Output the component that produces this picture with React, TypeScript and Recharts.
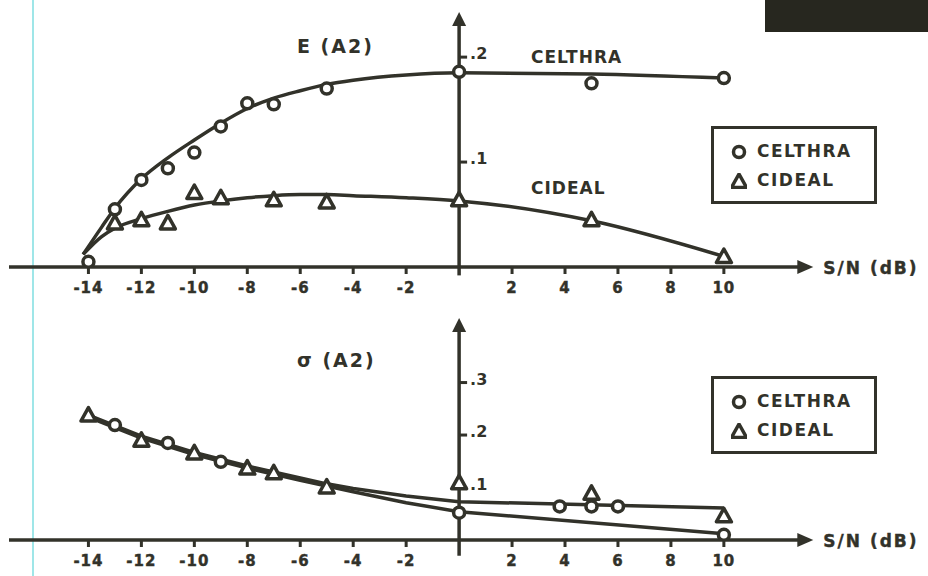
import React from 'react'
import {
  ComposedChart,
  Line,
  Scatter,
  XAxis,
  YAxis,
  ReferenceLine,
  ReferenceDot,
  Legend,
} from 'recharts'

// values, S/N in dB
const xTicks = [-14, -12, -10, -8, -6, -4, -2, 2, 4, 6, 8, 10]
const eTicks = [0.1, 0.2]
const sigmaTicks = [0.1, 0.2, 0.3]

// E (A2) - measured points
const eCelthraPts = [
  { x: -14, y: 0.005 }, { x: -13, y: 0.055 }, { x: -12, y: 0.083 }, { x: -11, y: 0.094 },
  { x: -10, y: 0.109 }, { x: -9, y: 0.134 }, { x: -8, y: 0.156 }, { x: -7, y: 0.155 },
  { x: -5, y: 0.17 }, { x: 0, y: 0.186 }, { x: 5, y: 0.175 }, { x: 10, y: 0.18 },
]
const eCidealPts = [
  { x: -13, y: 0.042 }, { x: -12, y: 0.045 }, { x: -11, y: 0.042 }, { x: -10, y: 0.071 },
  { x: -9, y: 0.066 }, { x: -7, y: 0.064 }, { x: -5, y: 0.062 }, { x: 0, y: 0.064 },
  { x: 5, y: 0.045 }, { x: 10, y: 0.01 },
]
// E (A2) - fitted curves
const eCelthraFit = [
  { x: -14.2, y: 0.012 }, { x: -13.5, y: 0.038 }, { x: -13, y: 0.056 }, { x: -12, y: 0.084 },
  { x: -11, y: 0.104 }, { x: -10, y: 0.121 }, { x: -9, y: 0.137 }, { x: -8, y: 0.151 },
  { x: -7, y: 0.161 }, { x: -6, y: 0.168 }, { x: -5, y: 0.174 }, { x: -4, y: 0.178 },
  { x: -2, y: 0.183 }, { x: 0, y: 0.185 }, { x: 5, y: 0.184 }, { x: 10, y: 0.18 },
]
const eCidealFit = [
  { x: -14.2, y: 0.012 }, { x: -13.5, y: 0.029 }, { x: -13, y: 0.037 }, { x: -12, y: 0.046 },
  { x: -11, y: 0.053 }, { x: -10, y: 0.059 }, { x: -9, y: 0.063 }, { x: -8, y: 0.066 },
  { x: -7, y: 0.068 }, { x: -6, y: 0.069 }, { x: -5, y: 0.069 }, { x: -4, y: 0.068 },
  { x: -2, y: 0.066 }, { x: 0, y: 0.063 }, { x: 5, y: 0.044 }, { x: 10, y: 0.01 },
]

// sigma (A2) - measured points
const sCelthraPts = [
  { x: -13, y: 0.219 }, { x: -11, y: 0.185 }, { x: -9, y: 0.149 }, { x: 0, y: 0.052 },
  { x: 3.8, y: 0.064 }, { x: 5, y: 0.064 }, { x: 6, y: 0.064 }, { x: 10, y: 0.01 },
]
const sCidealPts = [
  { x: -14, y: 0.238 }, { x: -12, y: 0.19 }, { x: -10, y: 0.166 }, { x: -8, y: 0.137 },
  { x: -7, y: 0.128 }, { x: -5, y: 0.101 }, { x: 0, y: 0.109 }, { x: 5, y: 0.089 },
  { x: 10, y: 0.046 },
]
// sigma (A2) - fitted lines
const sUpperFit = [
  { x: -14, y: 0.238 }, { x: -12, y: 0.198 }, { x: -10, y: 0.167 }, { x: -8, y: 0.141 },
  { x: -6, y: 0.118 }, { x: -5, y: 0.107 }, { x: -4, y: 0.098 }, { x: -2, y: 0.084 },
  { x: 0, y: 0.073 }, { x: 10, y: 0.061 },
]
const sLowerFit = [
  { x: -14, y: 0.234 }, { x: -12, y: 0.194 }, { x: -10, y: 0.163 }, { x: -8, y: 0.137 },
  { x: -6, y: 0.114 }, { x: -5, y: 0.103 }, { x: -4, y: 0.092 }, { x: -2, y: 0.071 },
  { x: 0, y: 0.054 }, { x: 10, y: 0.012 },
]

const INK = '#32322a'
const FONT = '"DejaVu Sans", sans-serif'
const X_DOMAIN = [-17, 13]

const Ring = (p: any) => (
  <circle cx={p.cx} cy={p.cy} r={5.5} fill="#fff" stroke={INK} strokeWidth={3.5} />
)

const Tri = (p: any) => {
  const s = 7.5
  return (
    <path
      d={`M${p.cx},${p.cy - s} L${p.cx + s},${p.cy + s * 0.8} L${p.cx - s},${p.cy + s * 0.8} Z`}
      fill="#fff"
      stroke={INK}
      strokeWidth={3.5}
      strokeLinejoin="round"
    />
  )
}

const XTick = (p: any) => (
  <g>
    <line x1={p.x} x2={p.x} y1={p.y} y2={p.y + 7} stroke={INK} strokeWidth={3} />
    <text
      x={p.x}
      y={p.y + 26}
      textAnchor="middle"
      fontFamily={FONT}
      fontWeight="bold"
      fontSize={15}
      letterSpacing={1}
      fill={INK}
      stroke={INK}
      strokeWidth={0.4}
    >
      {p.payload.value}
    </text>
  </g>
)

const yTickShape = (label: string) => (p: any) => (
  <g>
    <line x1={p.cx} x2={p.cx + 8} y1={p.cy} y2={p.cy} stroke={INK} strokeWidth={3} />
    <text
      x={p.cx + 11}
      y={p.cy + 2}
      fontFamily={FONT}
      fontWeight="bold"
      fontSize={16}
      fill={INK}
    >
      {label}
    </text>
  </g>
)

const ArrowUp = (p: any) => (
  <path d={`M${p.cx},${p.cy} L${p.cx + 7},${p.cy + 14} L${p.cx - 7},${p.cy + 14} Z`} fill={INK} />
)

const ArrowRight = (p: any) => (
  <g>
    <path d={`M${p.cx + 10},${p.cy} L${p.cx - 6},${p.cy - 7} L${p.cx - 6},${p.cy + 7} Z`} fill={INK} />
    <text
      x={p.cx + 20}
      y={p.cy + 7}
      fontFamily={FONT}
      fontWeight="bold"
      fontSize={17}
      letterSpacing={2}
      fill={INK}
      stroke={INK}
      strokeWidth={0.4}
    >
      S/N (dB)
    </text>
  </g>
)

const LegendBox = () => (
  <div
    style={{
      boxSizing: 'border-box',
      width: 166,
      height: 78,
      border: `3px solid ${INK}`,
      padding: '8px 0 0 17px',
      fontFamily: FONT,
      fontWeight: 'bold',
      fontSize: 17,
      letterSpacing: 1.5,
      color: INK,
      lineHeight: '29px',
    }}
  >
    <div style={{ display: 'flex', alignItems: 'center', height: 29 }}>
      <svg width={16} height={16} style={{ marginRight: 10 }}>
        <Ring cx={8} cy={8} />
      </svg>
      CELTHRA
    </div>
    <div style={{ display: 'flex', alignItems: 'center', height: 29 }}>
      <svg width={16} height={16} style={{ marginRight: 10 }}>
        <Tri cx={8} cy={8.5} />
      </svg>
      CIDEAL
    </div>
  </div>
)

const textStyle: React.CSSProperties = {
  position: 'absolute',
  fontFamily: FONT,
  fontWeight: 'bold',
  color: INK,
  whiteSpace: 'nowrap',
  lineHeight: 1,
}

interface PanelProps {
  top: number
  height: number
  yMax: number
  plotTop: number
  axisHeight: number
  axisBelow: number
  yTicks: number[]
  fits: { x: number; y: number }[][]
  curve: 'monotone' | 'linear'
  celthra: { x: number; y: number }[]
  cidealPts: { x: number; y: number }[]
  legendTop: number
}

function Panel({
  top,
  height,
  yMax,
  plotTop,
  axisHeight,
  axisBelow,
  yTicks,
  fits,
  curve,
  celthra,
  cidealPts,
  legendTop,
}: PanelProps) {
  return (
    <div style={{ position: 'absolute', left: 0, top, width: 928, height }}>
      <ComposedChart
        width={928}
        height={height}
        margin={{ top: plotTop, right: 124.7, bottom: 2, left: 9 }}
      >
        <XAxis
          type="number"
          dataKey="x"
          domain={X_DOMAIN}
          ticks={xTicks}
          interval={0}
          allowDataOverflow
          height={axisHeight}
          axisLine={{ stroke: INK, strokeWidth: 3.5 }}
          tickLine={false}
          tickSize={0}
          tickMargin={0}
          tick={<XTick />}
        />
        <YAxis type="number" dataKey="y" domain={[0, yMax]} allowDataOverflow hide />
        <ReferenceLine
          segment={[{ x: 0, y: -axisBelow }, { x: 0, y: yMax - 0.01 }]}
          stroke={INK}
          strokeWidth={3.5}
          ifOverflow="visible"
        />
        <ReferenceDot x={0} y={yMax} ifOverflow="visible" shape={<ArrowUp />} />
        <ReferenceDot x={13} y={0} ifOverflow="visible" shape={<ArrowRight />} />
        {yTicks.map((t) => (
          <ReferenceDot
            key={t}
            x={0}
            y={t}
            ifOverflow="visible"
            shape={yTickShape(String(t).replace(/^0/, ''))}
          />
        ))}
        {fits.map((f, i) => (
          <Line
            key={i}
            data={f}
            dataKey="y"
            type={curve}
            stroke={INK}
            strokeWidth={3.5}
            dot={false}
            isAnimationActive={false}
          />
        ))}
        <Scatter name="CELTHRA" data={celthra} shape={<Ring />} isAnimationActive={false} />
        <Scatter name="CIDEAL" data={cidealPts} shape={<Tri />} isAnimationActive={false} />
        <Legend
          layout="vertical"
          align="center"
          verticalAlign="middle"
          wrapperStyle={{ left: 711, top: legendTop, width: 166 }}
          content={() => <LegendBox />}
        />
      </ComposedChart>
    </div>
  )
}

export default function App() {
  return (
    <div
      style={{
        position: 'absolute',
        left: 0,
        top: 0,
        width: 928,
        height: 576,
        background: '#fff',
        overflow: 'hidden',
      }}
    >
      {/* scan artifacts */}
      <div style={{ position: 'absolute', left: 32, top: 0, width: 2, height: 576, background: '#9fe6e8' }} />
      <div style={{ position: 'absolute', left: 765, top: 0, width: 163, height: 32, background: '#27271f' }} />

      <Panel
        top={0}
        height={300}
        plotTop={12}
        axisHeight={31}
        yMax={0.243}
        axisBelow={0.008}
        yTicks={eTicks}
        fits={[eCelthraFit, eCidealFit]}
        curve="monotone"
        celthra={eCelthraPts}
        cidealPts={eCidealPts}
        legendTop={126}
      />
      <Panel
        top={300}
        height={276}
        plotTop={18}
        axisHeight={34}
        yMax={0.423}
        axisBelow={0.03}
        yTicks={sigmaTicks}
        fits={[sUpperFit, sLowerFit]}
        curve="linear"
        celthra={sCelthraPts}
        cidealPts={sCidealPts}
        legendTop={76}
      />

      <div style={{ ...textStyle, left: 297, top: 37, fontSize: 19, letterSpacing: 2 }}>E (A2)</div>
      <div style={{ ...textStyle, left: 297, top: 351, fontSize: 19, letterSpacing: 2 }}>σ (A2)</div>
      <div style={{ ...textStyle, left: 531, top: 49, fontSize: 17, letterSpacing: 1 }}>CELTHRA</div>
      <div style={{ ...textStyle, left: 531, top: 180, fontSize: 17, letterSpacing: 1 }}>CIDEAL</div>
    </div>
  )
}
